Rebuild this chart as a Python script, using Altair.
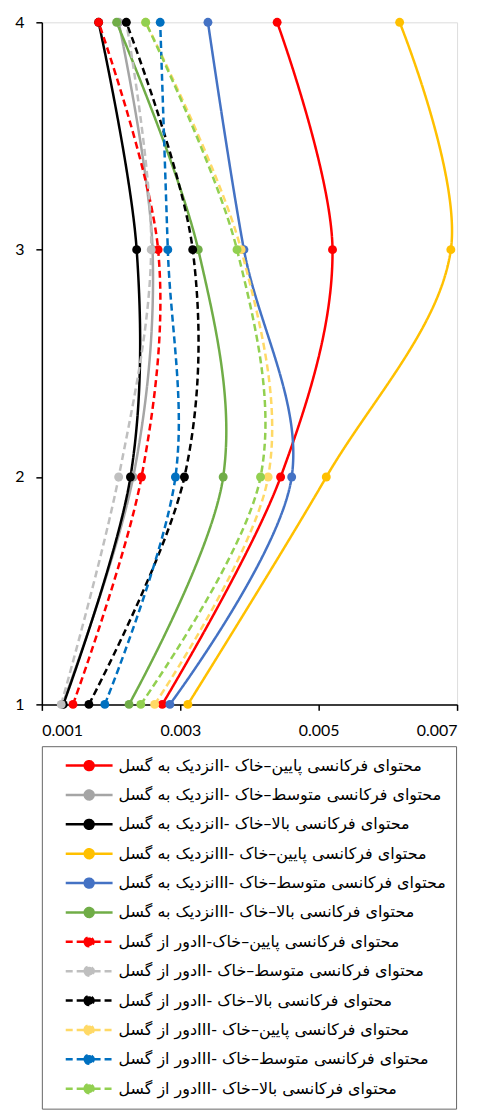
import altair as alt
import pandas as pd

levels = [1, 2, 3, 4]

series_names = [
    "محتوای فرکانسی پایین–خاک -IIنزدیک به گسل",
    "محتوای فرکانسی متوسط–خاک -IIنزدیک به گسل",
    "محتوای فرکانسی بالا–خاک -IIنزدیک به گسل",
    "محتوای فرکانسی پایین–خاک -IIIنزدیک به گسل",
    "محتوای فرکانسی متوسط–خاک -IIIنزدیک به گسل",
    "محتوای فرکانسی بالا–خاک -IIIنزدیک به گسل",
    "محتوای فرکانسی پایین–خاک-IIدور از گسل",
    "محتوای فرکانسی متوسط–خاک -IIدور از گسل",
    "محتوای فرکانسی بالا–خاک -IIدور از گسل",
    "محتوای فرکانسی پایین–خاک -IIIدور از گسل",
    "محتوای فرکانسی متوسط–خاک -IIIدور از گسل",
    "محتوای فرکانسی بالا–خاک -IIIدور از گسل",
]

# values at levels 1, 2, 3, 4
values = [
    [0.00274, 0.00445, 0.00520, 0.00440],  # red solid
    [0.00130, 0.00232, 0.00260, 0.00211],  # gray solid
    [0.00131, 0.00228, 0.00237, 0.00182],  # black solid
    [0.00311, 0.00511, 0.00691, 0.00617],  # yellow solid
    [0.00285, 0.00461, 0.00392, 0.00340],  # blue solid
    [0.00226, 0.00362, 0.00326, 0.00208],  # green solid
    [0.00145, 0.00244, 0.00268, 0.00182],  # red dashed
    [0.00128, 0.00211, 0.00258, 0.00222],  # gray dashed
    [0.00168, 0.00306, 0.00318, 0.00222],  # black dashed
    [0.00263, 0.00427, 0.00388, 0.00250],  # yellow dashed
    [0.00191, 0.00293, 0.00282, 0.00271],  # blue dashed
    [0.00243, 0.00416, 0.00382, 0.00250],  # green dashed
]

colors = ["#FF0000", "#A5A5A5", "#000000", "#FFC000", "#4472C4", "#70AD47",
          "#FF0000", "#BFBFBF", "#000000", "#FFD966", "#0070C0", "#92D050"]
dashed = [False] * 6 + [True] * 6

x_ticks = [0.001, 0.003, 0.005, 0.007]
y_ticks = [1, 2, 3, 4]

RLE, PDF = "\u202B", "\u202C"
labels = [RLE + n + PDF for n in series_names]

rows = []
for name, vals in zip(labels, values):
    for lv, v in zip(levels, vals):
        rows.append({"series": name, "level": lv, "value": v})
df = pd.DataFrame(rows)

dash_range = [[7, 4] if d else [1, 0] for d in dashed]

# symbol drawn at scale 8px per unit (symbolSize 256)
symbol_path = ("M-2.94,0H-0.56 M0.56,0H2.94 "
               "M-0.56,0A0.56,0.56 0 1,0 0.56,0A0.56,0.56 0 1,0 -0.56,0Z")

legend = alt.Legend(
    title=None,
    orient="none",
    legendX=0,
    legendY=727,
    direction="vertical",
    columns=1,
    symbolType=symbol_path,
    symbolSize=256,
    symbolStrokeWidth=2.5,
    symbolOffset=28,
    labelOffset=20,
    labelFont="DejaVu Sans",
    labelFontSize=16,
    labelColor="#000000",
    labelLimit=0,
    rowPadding=10.5,
    padding=10,
    strokeColor="#666666",
    fillColor="white",
)

color_scale = alt.Scale(domain=labels, range=colors)

x_enc = alt.X("value:Q", scale=alt.Scale(domain=[0.001, 0.007], nice=False),
              axis=alt.Axis(values=x_ticks, format=".3f", title=None, grid=False,
                            tickSize=6, labelPadding=12, labelFontSize=16,
                            labelFont="Lato", labelColor="#000000",
                            domainColor="#000000", tickColor="#000000",
                            domainWidth=1.5, tickWidth=1.5))
y_enc = alt.Y("level:Q", scale=alt.Scale(domain=[1, 4], nice=False),
              axis=alt.Axis(values=y_ticks, format="d", title=None, grid=False,
                            tickSize=6, labelPadding=12, labelFontSize=16,
                            labelFont="Lato", labelColor="#000000",
                            domainColor="#000000", tickColor="#000000",
                            domainWidth=1.5, tickWidth=1.5))

lines = alt.Chart(df).mark_line(interpolate="catmull-rom", strokeWidth=2.5).encode(
    x=x_enc,
    y=y_enc,
    order=alt.Order("level:Q"),
    color=alt.Color("series:N", scale=color_scale, legend=legend, sort=labels),
    strokeDash=alt.StrokeDash("series:N", scale=alt.Scale(domain=labels, range=dash_range),
                              legend=legend, sort=labels),
)

points = alt.Chart(df).mark_point(filled=True, size=80, opacity=1).encode(
    x=x_enc,
    y=y_enc,
    color=alt.Color("series:N", scale=color_scale, legend=legend, sort=labels),
)

chart = alt.layer(lines, points).properties(
    width=417,
    height=685,
    autosize=alt.AutoSizeParams(type="none"),
    padding={"left": 34, "top": 12, "right": 17, "bottom": 407},
).configure_view(stroke="#000000", strokeWidth=1.5).configure(background="white")

chart.save("out.html", embed_options={"renderer": "svg", "actions": False})
